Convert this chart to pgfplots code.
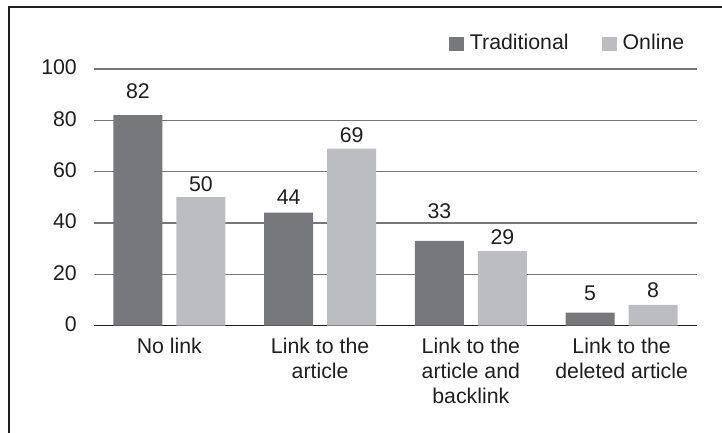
\documentclass[border=0pt]{standalone}
\usepackage{pgfplots}
\usepackage{pgfplotstable}
\usepackage{fontspec}
\pgfplotsset{compat=1.18}
\setmainfont{Liberation Sans}

\definecolor{tradbar}{HTML}{77787B}
\definecolor{onlinebar}{HTML}{BCBDC0}
\definecolor{gridgray}{HTML}{767676}
\definecolor{ink}{HTML}{1E1E1E}

\newcommand\chartfont{\fontsize{21.3bp}{25bp}\selectfont}

% x = category index, y = share, off = label baseline above bar top (bp)
\pgfplotstableread{
x y off
0 82 16.2
1 44 8.6
2 33 22.6
3 5  11.7
}\traditional

\pgfplotstableread{
x y off
0 50 5.6
1 69 6.2
2 29 7.1
3 8  7.7
}\online

\begin{document}
\begin{tikzpicture}
\useasboundingbox (0,0) rectangle (722bp,433bp);
% outer frame (left and top edges)
\draw[line width=1.6bp, color=ink] (9bp,0) -- (9bp,425.7bp) -- (722bp,425.7bp);

\begin{axis}[
  at={(94bp,107.5bp)}, anchor=south west,
  scale only axis,
  width=603bp, height=256.5bp,
  xmin=-0.5, xmax=3.5,
  ymin=0, ymax=100,
  ybar=14bp, bar width=49bp,
  axis lines*=left,
  y axis line style={draw=none},
  x axis line style={line width=1.4bp, color=ink},
  major tick length=0pt,
  xtick={0,1,2,3},
  xticklabels={{No link},{Link to the\\article},{Link to the\\article and\\backlink},{Link to the\\deleted article}},
  ytick={0,20,...,100},
  ymajorgrids,
  grid style={line width=1.3bp, color=gridgray},
  /pgf/number format/assume math mode=true,
  tick label style={font=\chartfont, text=ink, inner sep=0pt},
  yticklabel style={anchor=east, xshift=-17bp, yshift=1.5bp},
  xticklabel style={anchor=north, align=center, yshift=-12bp},
  nodes near coords,
  visualization depends on={\thisrow{off} \as \laboff},
  every node near coord/.append style={font=\chartfont, text=ink, anchor=base, inner sep=0pt, yshift=\laboff bp},
  legend image code/.code={\fill[#1] (0bp,-1.7bp) rectangle (15bp,12.3bp);},
  legend style={
    at={(axis description cs:0.5887,1.1047)}, anchor=west,
    draw=none, fill=none, inner sep=0pt, outer sep=0pt,
    font=\chartfont, text=ink,
    legend columns=2,
    cells={anchor=base west},
    nodes={inner sep=0pt},
    /tikz/every odd column/.append style={column sep=6bp},
    /tikz/every even column/.append style={column sep=33bp},
  },
]
\addplot[fill=tradbar, draw=none] table[x=x, y=y] {\traditional};
\addlegendentry{Traditional}
\addplot[fill=onlinebar, draw=none] table[x=x, y=y] {\online};
\addlegendentry{Online}
\end{axis}
\end{tikzpicture}
\end{document}
